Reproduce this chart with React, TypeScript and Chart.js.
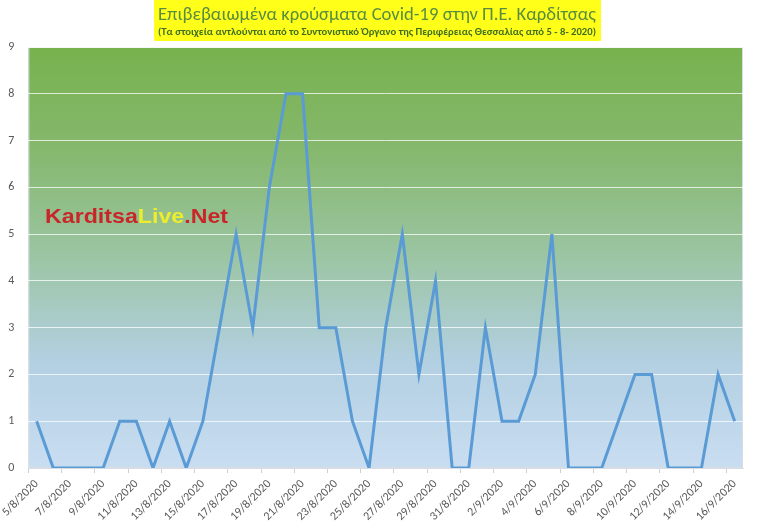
import React, { useEffect, useRef } from "react";
import { Chart, registerables } from "chart.js";

Chart.register(...registerables);

const dates: string[] = [
  "5/8/2020", "6/8/2020", "7/8/2020", "8/8/2020", "9/8/2020", "10/8/2020", "11/8/2020",
  "12/8/2020", "13/8/2020", "14/8/2020", "15/8/2020", "16/8/2020", "17/8/2020", "18/8/2020",
  "19/8/2020", "20/8/2020", "21/8/2020", "22/8/2020", "23/8/2020", "24/8/2020", "25/8/2020",
  "26/8/2020", "27/8/2020", "28/8/2020", "29/8/2020", "30/8/2020", "31/8/2020", "1/9/2020",
  "2/9/2020", "3/9/2020", "4/9/2020", "5/9/2020", "6/9/2020", "7/9/2020", "8/9/2020",
  "9/9/2020", "10/9/2020", "11/9/2020", "12/9/2020", "13/9/2020", "14/9/2020", "15/9/2020",
  "16/9/2020",
];

const cases: number[] = [
  1, 0, 0, 0, 0, 1, 1, 0, 1, 0, 1, 3, 5, 3, 6, 8, 8, 3, 3, 1, 0,
  3, 5, 2, 4, 0, 0, 3, 1, 1, 2, 5, 0, 0, 0, 1, 2, 2, 0, 0, 0, 2, 1,
];

const yTicks: number[] = [0, 1, 2, 3, 4, 5, 6, 7, 8, 9];

const titleText = "Επιβεβαιωμένα κρούσματα Covid-19 στην Π.Ε. Καρδίτσας";
const subtitleText =
  "(Τα στοιχεία αντλούνται από το Συντονιστικό Όργανο της Περιφέρειας Θεσσαλίας από 5 - 8- 2020)";

const FONT = "Carlito, 'Open Sans', 'Noto Sans', sans-serif";

const decorPlugin = {
  id: "decor",
  beforeDraw(chart: any) {
    const { ctx, chartArea } = chart;
    const { left, right, top, bottom } = chartArea;
    ctx.save();
    const g = ctx.createLinearGradient(0, top, 0, bottom);
    g.addColorStop(0, "#77b24e");
    g.addColorStop(0.25, "#86b86e");
    g.addColorStop(0.5, "#9cc5a4");
    g.addColorStop(0.75, "#b3d0e2");
    g.addColorStop(1, "#c9ddf1");
    ctx.fillStyle = g;
    ctx.fillRect(left, top, right - left, bottom - top);
    ctx.strokeStyle = "#d6dde4";
    ctx.lineWidth = 1;
    ctx.strokeRect(left + 0.5, top + 0.5, right - left - 1, bottom - top - 1);

    ctx.fillStyle = "#ffff1a";
    ctx.fillRect(154, 0, 447, 41);

    const fitText = (text: string, font: string, cx: number, cy: number, w: number, color: string) => {
      ctx.font = font;
      const m = ctx.measureText(text).width;
      const sx = w / m;
      ctx.save();
      ctx.translate(cx, cy);
      ctx.scale(sx, 1);
      ctx.fillStyle = color;
      ctx.textAlign = "center";
      ctx.textBaseline = "middle";
      ctx.fillText(text, 0, 0);
      ctx.restore();
    };
    fitText(titleText, `19px ${FONT}`, 377, 15, 438, "#5a8c40");
    fitText(subtitleText, `bold 10px ${FONT}`, 377, 32, 438, "#3f6e1f");
    ctx.restore();
  },
  afterDatasetsDraw(chart: any) {
    const { ctx } = chart;
    ctx.save();
    ctx.font = `bold 21px 'Liberation Sans', Arial, sans-serif`;
    ctx.textBaseline = "middle";
    ctx.textAlign = "left";
    const parts: [string, string][] = [
      ["Karditsa", "#c9262a"],
      ["Live", "#eded2c"],
      [".Net", "#c9262a"],
    ];
    const total = parts.reduce((s, p) => s + ctx.measureText(p[0]).width, 0);
    const sx = 183 / total;
    ctx.translate(45, 217);
    ctx.scale(sx, 1);
    let cx = 0;
    for (const [t, c] of parts) {
      ctx.fillStyle = c;
      ctx.fillText(t, cx, 0);
      cx += ctx.measureText(t).width;
    }
    ctx.restore();
  },
};

export default function App() {
  const ref = useRef<HTMLCanvasElement | null>(null);
  useEffect(() => {
    document.body.style.margin = "0";
    const canvas = ref.current;
    if (!canvas) return;
    const chart = new Chart(canvas, {
      type: "line",
      data: {
        labels: dates,
        datasets: [
          {
            data: cases,
            borderColor: "#5b9bd5",
            borderWidth: 3,
            pointRadius: 0,
            tension: 0,
            fill: false,
          },
        ],
      },
      options: {
        responsive: false,
        animation: false,
        maintainAspectRatio: false,
        layout: { padding: { top: 47, right: 14, left: 0, bottom: 0 } },
        plugins: {
          legend: { display: false },
          title: { display: false },
          tooltip: { enabled: false },
        },
        scales: {
          x: {
            offset: true,
            afterFit(scale: any) {
              scale.height = 61;
            },
            border: { display: true, color: "#d6dde4" },
            grid: {
              offset: true,
              drawOnChartArea: false,
              drawTicks: true,
              tickLength: 5,
              color: (ctx: any) => (ctx.index % 2 === 0 ? "#d0d0d0" : "rgba(0,0,0,0)"),
            },
            ticks: {
              autoSkip: false,
              maxRotation: 45,
              minRotation: 45,
              padding: 4,
              color: "#595959",
              font: { family: FONT, size: 12 },
              callback: (_v: any, i: number) => (i % 2 === 0 ? dates[i] : ""),
            },
          },
          y: {
            min: 0,
            max: 9,
            afterFit(scale: any) {
              scale.width = 27;
            },
            afterBuildTicks(scale: any) {
              scale.ticks = yTicks.map((v) => ({ value: v }));
            },
            border: { display: false },
            grid: {
              color: (ctx: any) => (ctx.tick && ctx.tick.value === 0 ? "rgba(0,0,0,0)" : "rgba(255,255,255,0.75)"),
              lineWidth: 1,
              drawTicks: false,
            },
            ticks: {
              padding: 14,
              color: "#595959",
              font: { family: FONT, size: 12 },
            },
          },
        },
      },
      plugins: [decorPlugin],
    });
    return () => chart.destroy();
  }, []);
  return <canvas ref={ref} width={757} height={529} style={{ display: "block", width: 757, height: 529 }} />;
}
